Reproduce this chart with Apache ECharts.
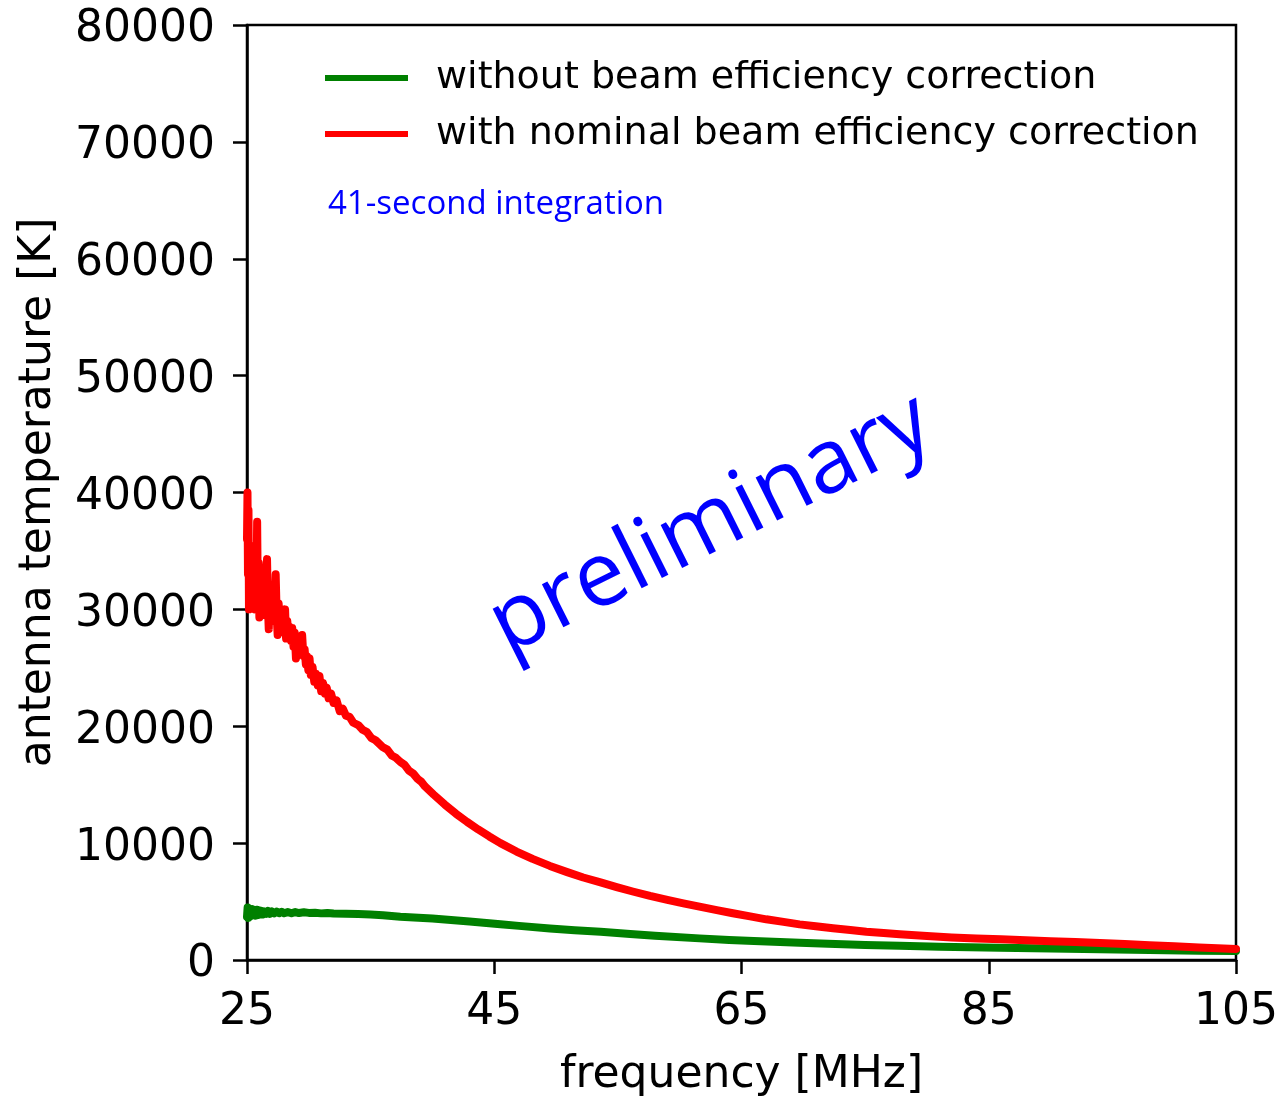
<!DOCTYPE html>
<html>
<head>
<meta charset="utf-8">
<script src="https://cdn.jsdelivr.net/npm/echarts@6/dist/echarts.min.js"></script>
<style>
  html, body { margin: 0; padding: 0; background: #fff; }
  #chart { width: 1282px; height: 1096px; }
</style>
</head>
<body>
<div id="chart"></div>
<script>
// Antenna temperature spectrum, 25-105 MHz
const xTicks = [25, 45, 65, 85, 105];

// with nominal beam efficiency correction
const freqRed = [
  25.00, 25.04, 25.08, 25.12, 25.16, 25.22, 25.28, 25.34, 25.40, 25.46,
  25.52, 25.58, 25.64, 25.70, 25.76, 25.82, 25.88, 25.94, 26.00, 26.06,
  26.14, 26.22, 26.30, 26.38, 26.46, 26.54, 26.62, 26.70, 26.76, 26.84,
  26.92, 27.00, 27.08, 27.16, 27.24, 27.32, 27.40, 27.48, 27.56, 27.64,
  27.72, 27.80, 27.90, 28.00, 28.08, 28.16, 28.26, 28.36, 28.46, 28.56,
  28.66, 28.76, 28.86, 28.96, 29.06, 29.16, 29.26, 29.36, 29.46, 29.56,
  29.66, 29.76, 29.86, 29.96, 30.06, 30.16, 30.30, 30.44, 30.58, 30.72,
  30.86, 31.00, 31.15, 31.30, 31.45, 31.60, 31.80, 32.00, 32.25, 32.50,
  32.75, 33.00, 33.30, 33.60, 34.00, 34.35, 34.70, 35.05, 35.40, 36.00,
  36.35, 36.70, 37.05, 37.40, 37.75, 38.10, 38.45, 38.80, 39.10, 39.40,
  40.10, 41.00, 41.90, 42.80, 43.70, 44.60, 45.50, 46.80, 48.10, 49.50,
  50.90, 52.20, 53.60, 54.90, 56.20, 57.60, 59.00, 60.30, 61.60, 63.00,
  64.30, 65.70, 67.00, 68.40, 69.70, 71.00, 72.40, 73.80, 75.10, 76.50,
  77.80, 80.00, 82.00, 84.00, 86.00, 88.00, 90.00, 92.00, 94.00, 96.00,
  98.00, 100.00, 102.00, 104.00, 105.00
];
const tempRed = [
  36000, 40000, 33000, 38500, 30000, 35500, 31000, 34000, 30500, 33000,
  31500, 35000, 30000, 33500, 31000, 37500, 30500, 34000, 29300, 33000,
  30500, 32500, 30000, 32000, 29500, 33000, 34300, 30000, 28300, 31500,
  29500, 31500, 29000, 31000, 30000, 33000, 29500, 27800, 30500, 29000,
  30000, 28500, 29500, 28000, 30000, 27500, 29000, 27600, 28500, 27300,
  28400, 26800, 28000, 25800, 27700, 26500, 27500, 26500, 27800, 26000,
  26600, 25300, 26000, 24800, 25800, 24400, 25100, 23800, 24500, 23500,
  24300, 23000, 23700, 22800, 23300, 22400, 22800, 22000, 22200, 21300,
  21500, 20900, 20800, 20300, 20100, 19700, 19500, 19000, 18800, 18200,
  18000, 17500, 17300, 16950, 16700, 16200, 15950, 15500, 15250, 14850,
  14150, 13300, 12520, 11820, 11170, 10570, 10000, 9280, 8650, 8050,
  7520, 7060, 6640, 6240, 5860, 5480, 5140, 4850, 4560, 4270,
  4000, 3730, 3480, 3260, 3050, 2880, 2710, 2560, 2420, 2310,
  2210, 2050, 1930, 1840, 1780, 1680, 1600, 1530, 1450, 1360,
  1270, 1180, 1070, 990, 950
];

// without beam efficiency correction
const freqGreen = [
  25.00, 25.05, 25.10, 25.16, 25.22, 25.30, 25.38, 25.46, 25.54, 25.62,
  25.70, 25.80, 25.90, 26.00, 26.10, 26.20, 26.30, 26.40, 26.55, 26.70,
  26.85, 27.00, 27.20, 27.40, 27.60, 27.80, 28.00, 28.30, 28.60, 28.90,
  29.20, 29.60, 30.00, 30.50, 31.00, 31.50, 32.00, 33.00, 34.00, 35.00,
  36.00, 37.40, 38.50, 40.00, 41.50, 43.00, 45.50, 47.00, 49.50, 51.50,
  53.60, 56.00, 58.00, 61.60, 64.00, 66.00, 69.70, 72.00, 75.00, 77.80,
  81.00, 85.90, 90.00, 94.00, 98.00, 102.00, 105.00
];
const tempGreen = [
  3700, 4500, 3600, 4400, 3700, 4300, 3800, 4350, 3850, 4200,
  3800, 4300, 3850, 4250, 3900, 4200, 3900, 4150, 3950, 4200,
  3950, 4150, 3980, 4150, 4000, 4120, 4000, 4100, 4000, 4100,
  4020, 4080, 4030, 4050, 3990, 4030, 3980, 3960, 3930, 3890,
  3830, 3700, 3640, 3550, 3420, 3290, 3060, 2920, 2700, 2550,
  2420, 2230, 2080, 1850, 1720, 1630, 1470, 1380, 1290, 1210,
  1130, 1040, 980, 920, 860, 800, 770
];

const pairs = (xs, ys) => xs.map((x, i) => [x, ys[i]]);

const chart = echarts.init(document.getElementById('chart'), null, { renderer: 'canvas' });

const tickFont = { fontFamily: 'DejaVu Sans', fontSize: 44, color: '#000' };

chart.setOption({
  animation: false,
  backgroundColor: '#fff',
  grid: {
    left: 247, right: 46, top: 25, bottom: 136,
    outerBoundsMode: 'none',
    show: true, borderColor: '#000', borderWidth: 2.5, backgroundColor: 'transparent'
  },
  legend: {
    orient: 'vertical',
    left: 320, top: 54,
    itemWidth: 83, itemHeight: 6, itemGap: 18,
    icon: 'rect',
    textStyle: {
      fontFamily: 'DejaVu Sans', fontSize: 38, color: '#000',
      lineHeight: 38, padding: [0, 0, 0, 23]
    },
    data: ['without beam efficiency correction', 'with nominal beam efficiency correction']
  },
  xAxis: {
    type: 'value', min: 25, max: 105,
    name: 'frequency [MHz]', nameLocation: 'middle', nameGap: 94,
    nameMoveOverlap: false,
    nameTextStyle: tickFont,
    axisLine: { show: true, lineStyle: { color: '#000', width: 2.5 } },
    axisTick: { show: true, length: 14, lineStyle: { color: '#000', width: 2.5 }, customValues: xTicks },
    axisLabel: { ...tickFont, margin: 31, customValues: xTicks },
    splitLine: { show: false }
  },
  yAxis: {
    type: 'value', min: 0, max: 80000, interval: 10000,
    name: 'antenna temperature [K]', nameLocation: 'middle', nameGap: 186,
    nameMoveOverlap: false,
    nameTextStyle: tickFont,
    axisLine: { show: true, lineStyle: { color: '#000', width: 2.5 } },
    axisTick: { show: true, length: 14, lineStyle: { color: '#000', width: 2.5 } },
    axisLabel: { ...tickFont, margin: 32, verticalAlign: 'top', lineHeight: 10, formatter: v => String(v) },
    splitLine: { show: false }
  },
  series: [
    {
      name: 'without beam efficiency correction',
      type: 'line', showSymbol: false, symbol: 'none',
      data: pairs(freqGreen, tempGreen),
      itemStyle: { color: '#008000' },
      lineStyle: { color: '#008000', width: 8, cap: 'round', join: 'round' },
      z: 2
    },
    {
      name: 'with nominal beam efficiency correction',
      type: 'line', showSymbol: false, symbol: 'none',
      data: pairs(freqRed, tempRed),
      itemStyle: { color: '#ff0000' },
      lineStyle: { color: '#ff0000', width: 8, cap: 'round', join: 'round' },
      z: 3
    }
  ],
  graphic: [
    {
      type: 'text', left: 328, top: 188,
      style: { text: '41-second integration', fill: '#0000ff', font: '33px "Open Sans"' }
    },
    {
      type: 'text', x: 711, y: 525, rotation: 26.5 * Math.PI / 180,
      style: {
        text: 'preliminary', fill: '#0000ff', font: '90px "Open Sans"',
        align: 'center', verticalAlign: 'middle'
      }
    }
  ]
});
</script>
</body>
</html>
